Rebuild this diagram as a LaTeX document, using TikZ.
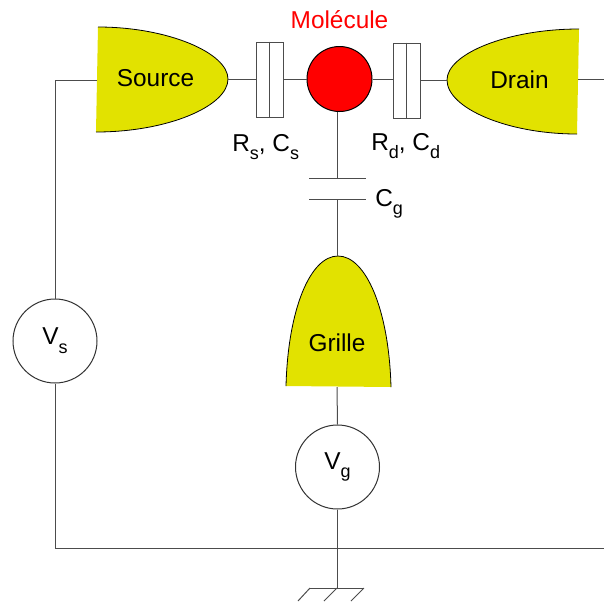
\documentclass[tikz,border=0pt]{standalone}
\usepackage{fontspec}
\setmainfont{Liberation Sans}
\definecolor{padyellow}{HTML}{E2E200}
\newcommand{\sbs}[1]{\raisebox{-0.36em}{\fontsize{13.5}{15}\selectfont #1}}
\tikzset{
    wire/.style={draw=black!70, line width=0.75pt},
    lbl/.style={font=\fontsize{18.3}{20}\selectfont, inner sep=0pt},
    sourcev/.style={circle, draw=black!80, fill=white, line width=0.75pt, minimum size=63pt, inner sep=0pt, font=\fontsize{18.3}{20}\selectfont},
    junction/.style={rectangle, draw=black!70, fill=white, line width=0.75pt, minimum width=20.25pt, minimum height=56.25pt, inner sep=0pt},
    pad/.style={fill=padyellow},
    padedge/.style={draw=black, line width=0.6pt}
}

\begin{document}
\begin{tikzpicture}[x=0.75pt, y=-0.75pt]
        \useasboundingbox (0,0) rectangle (604,601);

        % Electrodes.
        \coordinate (srctip) at (228,79);
        \coordinate (srcleft) at (97,80);
        \coordinate (drntip) at (447,80);
        \coordinate (drnright) at (578,79);
        \coordinate (grltop) at (338,256);
        \coordinate (grlbot) at (337,387);
        \fill[pad] (98,27) .. controls (168,27) and (228,53) .. (srctip) .. controls (228,106) and (168,132) .. (96,132) -- cycle;
        \draw[padedge] (98,27) .. controls (168,27) and (228,53) .. (srctip) .. controls (228,106) and (168,132) .. (96,132);
        \fill[pad] (579,29) .. controls (507,29) and (447,54) .. (drntip) .. controls (447,108) and (507,134) .. (577,134) -- cycle;
        \draw[padedge] (579,29) .. controls (507,29) and (447,54) .. (drntip) .. controls (447,108) and (507,134) .. (577,134);
        \fill[pad] (286,386) .. controls (288,310) and (310,256) .. (grltop) .. controls (366,256) and (389,310) .. (391,387) -- cycle;
        \draw[padedge] (286,386) .. controls (288,310) and (310,256) .. (grltop) .. controls (366,256) and (389,310) .. (391,387);
        \node[lbl] (source) at (155.5,78.5) {Source};
        \node[lbl] (drain) at (519.5,80) {Drain};
        \node[lbl] (grille) at (337,343) {Grille};

        % Molecule and tunnel junctions.
        \node[circle, draw=black, fill=red, line width=0.75pt, minimum size=48.75pt, inner sep=0pt] (mol) at (339.5,79) {};
        \node[lbl, text=red] (mollabel) at (339.5,20) {Molécule};
        \node[junction] (rs) at (269.5,79.5) {};
        \node[junction] (rd) at (406.5,80.5) {};
        \draw[wire] (rs.north) -- (rs.south);
        \draw[wire] (rd.north) -- (rd.south);
        \node[lbl, anchor=base west] (rslabel) at (232,151) {R\sbs{s}, C\sbs{s}};
        \node[lbl, anchor=base west] (rdlabel) at (371,150) {R\sbs{d}, C\sbs{d}};

        % Gate capacitor.
        \coordinate (platetop) at (337.5,178);
        \coordinate (platebot) at (337.5,199);
        \draw[wire] (309,178) -- (366,178);
        \draw[wire] (309,199) -- (366,199);
        \node[lbl, anchor=base west] (cglabel) at (375,206) {C\sbs{g}};

        % Voltage sources.
        \node[sourcev] (vs) at (55,341) {V\sbs{s}};
        \node[sourcev] (vg) at (337.5,467) {V\sbs{g}};

        \draw[wire] (srctip) -- (rs.west |- srctip);
        \draw[wire] (rs.east |- mol.west) -- (mol.west);
        \draw[wire] (mol.east) -- (rd.west |- mol.east);
        \draw[wire] (rd.east |- drntip) -- (drntip);
        \draw[wire] (drnright) -- (604,79);
        \draw[wire] (mol.south -| platetop) -- (platetop);
        \draw[wire] (platebot) -- (grltop -| platebot);
        \draw[wire] (grlbot) -- (vg.north);

        % Common line and ground.
        \coordinate (gnd) at (337.5,588);
        \draw[wire] (srcleft) -- (vs.north |- srcleft) -- (vs.north);
        \draw[wire] (vs.south) -- (55,548) -- (604,548);
        \draw[wire] (vg.south) -- (gnd);
        \draw[wire] (310,588) -- (364,588);
        \foreach \x/\y in {310/298, 337/324, 364/351}
            \draw[wire] (\x,588) -- (\y,601);
    \end{tikzpicture}
\end{document}
